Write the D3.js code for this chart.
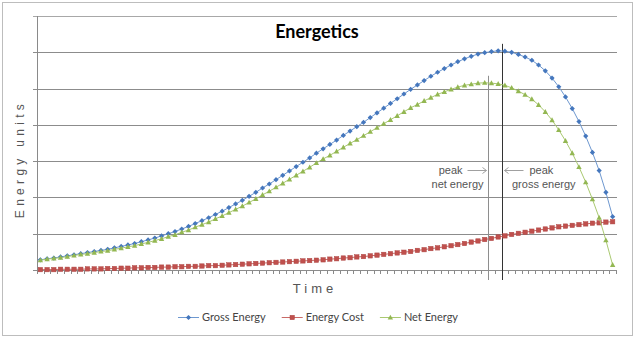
<!DOCTYPE html>
<html>
<head>
<meta charset="utf-8">
<script src="https://cdn.jsdelivr.net/npm/d3@7"></script>
<style>
body{margin:0;background:#fff;}
svg{display:block;font-family:"Liberation Sans",Arial,sans-serif;}
</style>
</head>
<body>
<svg id="chart" width="640" height="345"></svg>
<script>
// values, one per time step
const seriesNames=["Gross Energy","Energy Cost","Net Energy"];
const grossEnergy=[0.28,0.31,0.33,0.36,0.39,0.42,0.45,0.48,0.51,0.54,
  0.57,0.61,0.65,0.69,0.73,0.78,0.83,0.88,0.94,1.00,
  1.06,1.13,1.20,1.28,1.36,1.44,1.53,1.62,1.72,1.82,
  1.92,2.03,2.14,2.26,2.37,2.49,2.61,2.73,2.85,2.97,
  3.09,3.22,3.34,3.46,3.58,3.71,3.83,3.95,4.07,4.20,
  4.33,4.46,4.59,4.72,4.85,4.98,5.10,5.22,5.34,5.45,
  5.55,5.65,5.74,5.82,5.89,5.95,5.99,6.02,6.04,6.03,
  6.00,5.94,5.87,5.78,5.65,5.49,5.29,5.05,4.77,4.45,
  4.09,3.69,3.24,2.74,2.14,1.47];
const energyCost=[0.01,0.01,0.01,0.02,0.02,0.02,0.02,0.03,0.03,0.03,
  0.04,0.04,0.05,0.05,0.06,0.06,0.07,0.07,0.08,0.08,
  0.09,0.09,0.10,0.10,0.11,0.12,0.12,0.13,0.14,0.15,
  0.16,0.17,0.18,0.19,0.20,0.21,0.22,0.23,0.24,0.25,
  0.26,0.27,0.28,0.30,0.31,0.33,0.34,0.36,0.37,0.39,
  0.41,0.43,0.45,0.47,0.49,0.51,0.54,0.56,0.59,0.61,
  0.64,0.67,0.70,0.73,0.77,0.80,0.84,0.87,0.91,0.94,
  0.98,1.01,1.04,1.07,1.10,1.13,1.16,1.19,1.21,1.23,
  1.25,1.27,1.29,1.30,1.32,1.33];
const netEnergy=[0.27,0.30,0.32,0.34,0.37,0.40,0.43,0.45,0.48,0.51,
  0.53,0.57,0.60,0.64,0.67,0.72,0.76,0.81,0.86,0.92,
  0.97,1.04,1.10,1.18,1.25,1.32,1.41,1.49,1.58,1.67,
  1.76,1.86,1.96,2.07,2.17,2.28,2.39,2.50,2.61,2.72,
  2.83,2.95,3.06,3.16,3.27,3.38,3.49,3.59,3.70,3.81,
  3.92,4.03,4.14,4.25,4.36,4.47,4.56,4.66,4.75,4.84,
  4.91,4.98,5.04,5.09,5.12,5.15,5.16,5.15,5.13,5.09,
  5.02,4.93,4.83,4.71,4.55,4.36,4.13,3.86,3.56,3.22,
  2.84,2.42,1.95,1.44,0.82,0.14];
const yTicks=[0,1,2,3,4,5,6,7];
const peakLabels=[["peak","net energy"],["peak","gross energy"]];

const plot={left:37,right:616,top:16,bottom:270};
const svg=d3.select('#chart');

// outer frame
svg.append('rect')
  .attr('x',2.5).attr('y',2.5).attr('width',630).attr('height',333)
  .attr('fill','#fff').attr('stroke','#bdbdbd');

const x=d3.scaleBand().domain(d3.range(grossEnergy.length)).range([plot.left,plot.right]);
const cx=i=>x(i)+x.bandwidth()/2;
const y=d3.scaleLinear().domain([0,7]).range([plot.bottom,plot.top]);

// gridlines + little left ticks
svg.append('g').selectAll('line').data(yTicks).join('line')
  .attr('x1',plot.left-4).attr('x2',plot.right+1)
  .attr('y1',d=>Math.round(y(d))+0.5).attr('y2',d=>Math.round(y(d))+0.5)
  .attr('stroke',d=>d==7?'#a8a8a8':'#8c8c8c').attr('stroke-width',1);

// y axis line
svg.append('line')
  .attr('x1',plot.left+0.5).attr('x2',plot.left+0.5)
  .attr('y1',Math.round(y(7))).attr('y2',Math.round(y(0))+1)
  .attr('stroke','#8a8a8a');

// x ticks on category boundaries
const bounds=x.domain().map(i=>x(i)).concat([plot.right]);
svg.append('g').selectAll('line').data(bounds).join('line')
  .attr('x1',d=>Math.round(d)+0.5).attr('x2',d=>Math.round(d)+0.5)
  .attr('y1',Math.round(y(0))+1).attr('y2',Math.round(y(0))+4)
  .attr('stroke','#8a8a8a');

// peak annotation lines (drawn on the boundary after the peak step)
const peaks=[
  {values:netEnergy,label:peakLabels[0],color:'#8e8e8e',side:-1},
  {values:grossEnergy,label:peakLabels[1],color:'#333',side:1}
];
peaks.forEach(p=>{
  p.i=d3.maxIndex(p.values);
  p.x=Math.round(x(p.i)+x.bandwidth())+0.5;
});
svg.append('g').selectAll('line').data(peaks).join('line')
  .attr('x1',d=>d.x).attr('x2',d=>d.x)
  .attr('y1',d=>y(d.values[d.i])-7).attr('y2',y(0)+10)
  .attr('stroke',d=>d.color).attr('stroke-width',1);

// series
const series=[
  {name:seriesNames[0],values:grossEnergy,line:'#6e98d0',mark:'#4577bd',shape:'diamond'},
  {name:seriesNames[1],values:energyCost,line:'#c96a67',mark:'#c0504d',shape:'square'},
  {name:seriesNames[2],values:netEnergy,line:'#aac971',mark:'#93b752',shape:'triangle'}
];
const line=d3.line().x((d,i)=>cx(i)).y(d=>y(d));

function marker(sel,shape,color){
  if(shape=='diamond'){
    sel.append('path').attr('d','M0,-2.6L2.6,0L0,2.6L-2.6,0Z').attr('fill',color);
  }else if(shape=='square'){
    sel.append('rect').attr('x',-2.2).attr('y',-2.2).attr('width',4.4).attr('height',4.4)
      .attr('fill',color).attr('stroke','#ad4542').attr('stroke-width',0.5);
  }else{
    sel.append('path').attr('d','M0,-2.8L2.7,2.1L-2.7,2.1Z').attr('fill',color);
  }
}

series.forEach(s=>{
  svg.append('path').datum(s.values)
    .attr('d',line).attr('fill','none')
    .attr('stroke',s.line).attr('stroke-width',1);
  svg.append('g').selectAll('g').data(s.values).join('g')
    .attr('transform',(d,i)=>`translate(${cx(i)},${y(d)})`)
    .each(function(){marker(d3.select(this),s.shape,s.mark);});
});

// annotations text + arrows
const ann=svg.append('g').attr('font-size',11).attr('fill','#555');
peaks.forEach(p=>{
  const ay=170.5;
  const g=ann.append('g');
  if(p.side<0){
    g.append('text').attr('x',p.x-26).attr('y',174).attr('text-anchor','end').text(p.label[0]);
    g.append('text').attr('x',p.x-5).attr('y',187.5).attr('text-anchor','end').text(p.label[1]);
    g.append('path').attr('d',`M${p.x-21},${ay}H${p.x-2}M${p.x-6},${ay-3}L${p.x-2},${ay}L${p.x-6},${ay+3}`)
      .attr('fill','none').attr('stroke','#a0a0a0');
  }else{
    g.append('text').attr('x',p.x+27).attr('y',174).text(p.label[0]);
    g.append('text').attr('x',p.x+9.5).attr('y',187.5).text(p.label[1]);
    g.append('path').attr('d',`M${p.x+21},${ay}H${p.x+2}M${p.x+6},${ay-3}L${p.x+2},${ay}L${p.x+6},${ay+3}`)
      .attr('fill','none').attr('stroke','#a0a0a0');
  }
});

// title
svg.append('text').attr('x',317).attr('y',38).attr('text-anchor','middle')
  .attr('font-family','Lato,sans-serif').attr('font-weight','bold').attr('font-size',18)
  .attr('fill','#000').text('Energetics');

// axis titles
svg.append('text').attr('x',315).attr('y',293).attr('text-anchor','middle')
  .attr('font-size',13).attr('letter-spacing',4).attr('fill','#555').text('Time');
svg.append('text').attr('transform','translate(24,159) rotate(-90)').attr('text-anchor','middle')
  .attr('font-size',12).attr('letter-spacing',4.3).attr('fill','#555').text('Energy units');

// legend
const leg=svg.append('g').attr('font-family','Lato,sans-serif').attr('font-size',11).attr('fill','#444');
let lx=0;
const items=leg.selectAll('g').data(series).join('g');
items.each(function(s){
  const g=d3.select(this);
  g.append('line').attr('x1',0).attr('x2',21).attr('y1',0.5).attr('y2',0.5).attr('stroke',s.line);
  marker(g.append('g').attr('transform','translate(10.5,0.5)'),s.shape,s.mark);
  const t=g.append('text').attr('x',24).attr('y',4).text(s.name);
  const w=24+t.node().getComputedTextLength();
  g.attr('transform',`translate(${lx},317)`);
  lx+=w+16;
});
const legW=lx-16;
leg.attr('transform',`translate(${Math.round(318-legW/2)},0)`);
</script>
</body>
</html>
